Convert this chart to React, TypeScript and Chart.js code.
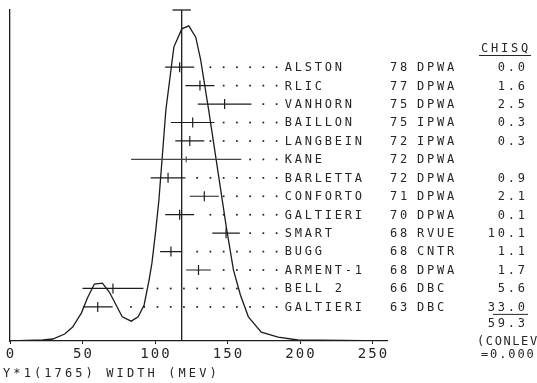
import React, { useEffect, useRef } from "react";
import { Chart, registerables } from "chart.js";

Chart.register(...registerables);

// ---- data ----
const names = ["ALSTON", "RLIC", "VANHORN", "BAILLON", "LANGBEIN", "KANE", "BARLETTA", "CONFORTO", "GALTIERI", "SMART", "BUGG", "ARMENT-1", "BELL 2", "GALTIERI"];
const years = ["78", "77", "75", "75", "72", "72", "72", "71", "70", "68", "68", "68", "66", "63"];
const methods = ["DPWA", "DPWA", "DPWA", "IPWA", "IPWA", "DPWA", "DPWA", "DPWA", "DPWA", "RVUE", "CNTR", "DPWA", "DBC", "DBC"];
const chisq = ["0.0", "1.6", "2.5", "0.3", "0.3", "", "0.9", "2.1", "0.1", "10.1", "1.1", "1.7", "5.6", "33.0"];
const widths = [117, 131, 148, 126, 124, 121.5, 109, 134, 117, 149, 111, 130, 71, 60.5];
const errors = [10, 10, 18.5, 15, 10, 38, 12, 10, 10, 9.5, 7.5, 8.5, 21, 10.3];

const curveX = [0, 22.6, 29.5, 37.7, 43.2, 49.3, 53.4, 58.2, 63.7, 68.5, 77.4, 83.6, 88.4, 92.5, 95.9, 97.9, 100.7, 102.7, 107.5, 113, 118.5, 123.3, 128.1, 131.5, 137, 149.3, 154.1, 158.9, 164.4, 173.3, 184.9, 198.6, 260];
const curveY = [0, 0.3, 0.6, 2.1, 4.2, 8.5, 13.0, 17.2, 17.5, 14.8, 7.3, 6.0, 7.3, 10.9, 18.4, 23.6, 34.1, 42.6, 69.8, 88.8, 94.3, 95.2, 91.8, 84.9, 69.8, 34.1, 21.5, 13.9, 7.3, 2.7, 1.2, 0.3, 0];

const meanWidth = 118.4;
const meanError = 6.3;
const xTickValues = [0, 50, 100, 150, 200, 250];
const chisqHeader = "CHISQ";
const chisqTotal = "59.3";
const conlevLines = ["(CONLEV", "=0.000)"];
const axisTitle = "Y*1(1765) WIDTH (MEV)";

// ---- styling ----
const INK = "#1c1c1c";
const TEXT = "#262626";
const FAINT = "#454545";
const MONO = "'DejaVu Sans Mono', monospace";
const LEADER_START = 83.4;
const LEADER_STEP = 9.13;
const LEADER_COUNT = 12;

function spacedText(ctx: CanvasRenderingContext2D, text: string, x: number, y: number, align: "left" | "right" | "center", spacing: number) {
  (ctx as any).letterSpacing = "0px";
  const base = ctx.measureText(text).width;
  const w = base + spacing * Math.max(0, text.length - 1);
  let sx = x;
  if (align === "right") sx = x - w;
  else if (align === "center") sx = x - w / 2;
  (ctx as any).letterSpacing = spacing + "px";
  ctx.textAlign = "left";
  ctx.fillText(text, sx, y);
  (ctx as any).letterSpacing = "0px";
}

const overlayPlugin = {
  id: "ideogramOverlay",
  afterDatasetsDraw(chart: any) {
    const ctx: CanvasRenderingContext2D = chart.ctx;
    const xs = chart.scales.x;
    const yr = chart.scales.yr;
    ctx.save();

    names.forEach((_, i) => {
      const used = chisq[i] !== "";
      const py = yr.getPixelForValue(i);
      const lo = xs.getPixelForValue(widths[i] - errors[i]);
      const hi = xs.getPixelForValue(widths[i] + errors[i]);
      const c = xs.getPixelForValue(widths[i]);
      ctx.strokeStyle = used ? INK : FAINT;
      ctx.lineWidth = used ? 1.2 : 1.1;
      const th = used ? 5 : 3;
      ctx.beginPath();
      ctx.moveTo(lo, py);
      ctx.lineTo(hi, py);
      ctx.moveTo(c, py - th);
      ctx.lineTo(c, py + th);
      ctx.stroke();
      ctx.fillStyle = INK;
      for (let k = 0; k < LEADER_COUNT; k++) {
        const px = xs.getPixelForValue(LEADER_START + LEADER_STEP * k);
        if (px > hi + 3) {
          ctx.fillRect(px - 0.8, py - 0.8, 1.7, 1.7);
        }
      }
    });

    // row texts
    ctx.fillStyle = TEXT;
    ctx.strokeStyle = TEXT;
    ctx.font = "12px " + MONO;
    ctx.textBaseline = "alphabetic";
    names.forEach((n, i) => {
      const py = yr.getPixelForValue(i);
      const by = py + 3.9;
      spacedText(ctx, n, 284.7, by, "left", 2.8);
      spacedText(ctx, years[i], 390, by, "left", 2.8);
      spacedText(ctx, methods[i], 417, by, "left", 2.8);
      if (chisq[i]) spacedText(ctx, chisq[i], 525, by, "right", 2.8);
    });

    // CHISQ header + underline, total
    spacedText(ctx, chisqHeader, 481, 52.4, "left", 2.8);
    ctx.lineWidth = 1;
    ctx.beginPath();
    ctx.moveTo(479, 55.5);
    ctx.lineTo(531, 55.5);
    const lastPy = yr.getPixelForValue(names.length - 1);
    ctx.moveTo(493, lastPy + 7.5);
    ctx.lineTo(528, lastPy + 7.5);
    ctx.stroke();
    spacedText(ctx, chisqTotal, 525, 327.4, "right", 2.8);
    spacedText(ctx, conlevLines[0], 477, 345.4, "left", 1.6);
    spacedText(ctx, conlevLines[1], 481, 358.4, "left", 1.9);

    // x tick labels from the axis ticks
    ctx.font = "14px " + MONO;
    xs.ticks.forEach((t: any) => {
      const px = xs.getPixelForValue(t.value);
      spacedText(ctx, String(t.value), px, 358, "center", 2);
    });

    // axis title
    ctx.font = "12px " + MONO;
    spacedText(ctx, axisTitle, 3, 377.4, "left", 3.1);
    ctx.restore();
  },
};

export default function App() {
  const ref = useRef<HTMLCanvasElement | null>(null);
  useEffect(() => {
    if (!ref.current) return;
    const chart = new Chart(ref.current, {
      type: "scatter",
      data: {
        datasets: [
          {
            data: curveX.map((x, i) => ({ x, y: curveY[i] })),
            showLine: true,
            borderColor: INK,
            borderWidth: 1.3,
            pointRadius: 0,
            tension: 0,
            yAxisID: "y",
          },
          {
            data: [{ x: meanWidth, y: 0 }, { x: meanWidth, y: 100 }],
            showLine: true,
            borderColor: INK,
            borderWidth: 1.3,
            pointRadius: 0,
            yAxisID: "y",
            clip: false,
          },
          {
            data: [{ x: meanWidth - meanError, y: 100 }, { x: meanWidth + meanError, y: 100 }],
            showLine: true,
            borderColor: INK,
            borderWidth: 1.3,
            pointRadius: 0,
            yAxisID: "y",
            clip: false,
          },
        ] as any,
      },
      options: {
        animation: false,
        responsive: false,
        events: [],
        layout: { padding: { left: 10, right: 150, top: 10, bottom: 12 } },
        plugins: { legend: { display: false }, tooltip: { enabled: false }, title: { display: false } },
        scales: {
          x: {
            type: "linear",
            position: "bottom",
            min: 0,
            max: 260,
            afterBuildTicks: (s: any) => {
              s.ticks = xTickValues.map((v) => ({ value: v }));
            },
            ticks: { display: false, stepSize: 50, includeBounds: false },
            grid: { display: true, drawOnChartArea: false, drawTicks: true, tickLength: 3, color: INK, lineWidth: 1 },
            border: { display: true, color: INK, width: 1.3 },
            afterFit: (s: any) => {
              s.height = 30;
            },
          },
          y: {
            type: "linear",
            position: "left",
            min: 0,
            max: 100,
            ticks: { display: false },
            grid: { display: false },
            border: { display: true, color: INK, width: 1.3 },
            afterFit: (s: any) => {
              s.width = 0;
            },
          },
          yr: {
            type: "linear",
            position: "right",
            min: -3.1,
            max: 14.85,
            reverse: true,
            display: false,
          },
        } as any,
      },
      plugins: [overlayPlugin],
    });
    return () => chart.destroy();
  }, []);
  return (
    <div style={{ position: "absolute", left: 0, top: 0, width: 537, height: 383, background: "#fff" }}>
      <canvas ref={ref} width={537} height={383} style={{ display: "block" }} />
    </div>
  );
}
